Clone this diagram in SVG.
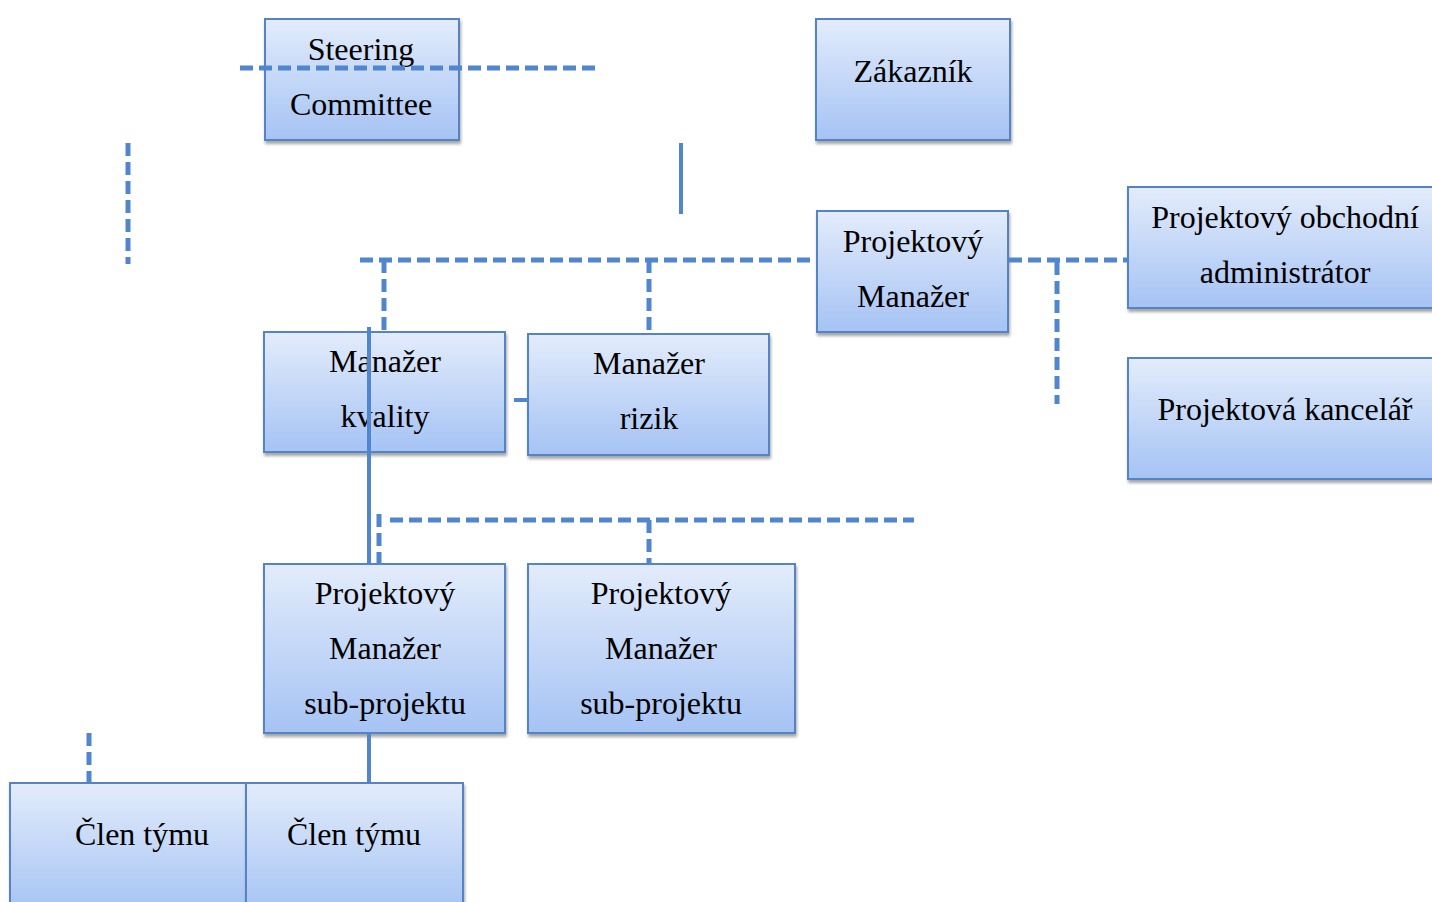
<svg xmlns="http://www.w3.org/2000/svg" width="1432" height="902" viewBox="0 0 1432 902">
  <defs>
    <linearGradient id="boxFill" x1="0" y1="0" x2="0" y2="1">
      <stop offset="0" stop-color="#e3ecfb"/>
      <stop offset="1" stop-color="#a5c3f4"/>
    </linearGradient>
    <filter id="shadow" x="-5%" y="-5%" width="115%" height="120%">
      <feDropShadow dx="1" dy="3" stdDeviation="1.5" flood-color="#000" flood-opacity="0.35"/>
    </filter>
  </defs>
  <style>
    .box { fill: url(#boxFill); stroke: #5584c4; stroke-width: 2; filter: url(#shadow); }
    .lbl { font-family: "Liberation Serif", "Times New Roman", serif; font-size: 32px; fill: #000; text-anchor: middle; }
    .dash { stroke: #4f86cf; stroke-width: 5; fill: none; stroke-dasharray: 13 6; }
    .solid { stroke: #4f86cf; stroke-width: 4; fill: none; }
  </style>
  <rect width="1432" height="902" fill="#fff"/>

  <g id="steering-committee">
    <rect class="box" x="265" y="19" width="194" height="121"/>
    <text class="lbl" x="361" y="60">Steering</text>
    <text class="lbl" x="361" y="115">Committee</text>
  </g>

  <g id="zakaznik">
    <rect class="box" x="816" y="19" width="194" height="121"/>
    <text class="lbl" x="913" y="82">Zákazník</text>
  </g>

  <g id="projektovy-manazer">
    <rect class="box" x="817" y="211" width="191" height="121"/>
    <text class="lbl" x="913" y="252">Projektový</text>
    <text class="lbl" x="913" y="307">Manažer</text>
  </g>

  <g id="obchodni-administrator">
    <rect class="box" x="1128" y="187" width="310" height="121"/>
    <text class="lbl" x="1285" y="228">Projektový obchodní</text>
    <text class="lbl" x="1285" y="283">administrátor</text>
  </g>

  <g id="projektova-kancelar">
    <rect class="box" x="1128" y="358" width="310" height="121"/>
    <text class="lbl" x="1285" y="420">Projektová kancelář</text>
  </g>

  <g id="manazer-kvality">
    <rect class="box" x="264" y="332" width="241" height="120"/>
    <text class="lbl" x="385" y="372">Manažer</text>
    <text class="lbl" x="385" y="427">kvality</text>
  </g>

  <g id="manazer-rizik">
    <rect class="box" x="528" y="334" width="241" height="121"/>
    <text class="lbl" x="649" y="374">Manažer</text>
    <text class="lbl" x="649" y="429">rizik</text>
  </g>

  <g id="sub-projekt-1">
    <rect class="box" x="264" y="564" width="241" height="169"/>
    <text class="lbl" x="385" y="604">Projektový</text>
    <text class="lbl" x="385" y="659">Manažer</text>
    <text class="lbl" x="385" y="714">sub-projektu</text>
  </g>

  <g id="sub-projekt-2">
    <rect class="box" x="528" y="564" width="267" height="169"/>
    <text class="lbl" x="661" y="604">Projektový</text>
    <text class="lbl" x="661" y="659">Manažer</text>
    <text class="lbl" x="661" y="714">sub-projektu</text>
  </g>

  <g id="clen-tymu-1">
    <rect class="box" x="10" y="783" width="236" height="130"/>
    <text class="lbl" x="142" y="845">Člen týmu</text>
  </g>

  <g id="clen-tymu-2">
    <rect class="box" x="246" y="783" width="217" height="130"/>
    <text class="lbl" x="354" y="845">Člen týmu</text>
  </g>

  <g id="connectors">
    <!-- dashed line through the steering committee -->
    <line class="dash" x1="240" y1="68" x2="597" y2="68"/>
    <!-- stray segments in the upper area -->
    <line class="dash" x1="128" y1="143" x2="128" y2="264"/>
    <line class="solid" x1="681" y1="143" x2="681" y2="214"/>
    <!-- project manager to quality / risk managers -->
    <line class="dash" x1="360" y1="260" x2="817" y2="260"/>
    <line class="dash" x1="384" y1="260" x2="384" y2="331"/>
    <line class="dash" x1="649" y1="260" x2="649" y2="333"/>
    <!-- project manager to business administrator -->
    <line class="dash" x1="1009" y1="260" x2="1128" y2="260"/>
    <line class="dash" x1="1057" y1="262" x2="1057" y2="404"/>
    <!-- short stub between quality and risk managers -->
    <line class="solid" x1="514" y1="400" x2="528" y2="400"/>
    <!-- solid line down to the first sub-project manager -->
    <line class="solid" x1="369" y1="327" x2="369" y2="564"/>
    <!-- sub-project branch -->
    <line class="dash" x1="390" y1="520" x2="914" y2="520"/>
    <line class="dash" x1="379" y1="514" x2="379" y2="563"/>
    <line class="dash" x1="649" y1="520" x2="649" y2="563"/>
    <!-- team members -->
    <line class="solid" x1="369" y1="733" x2="369" y2="782"/>
    <line class="dash" x1="89" y1="733" x2="89" y2="782"/>
  </g>
</svg>
